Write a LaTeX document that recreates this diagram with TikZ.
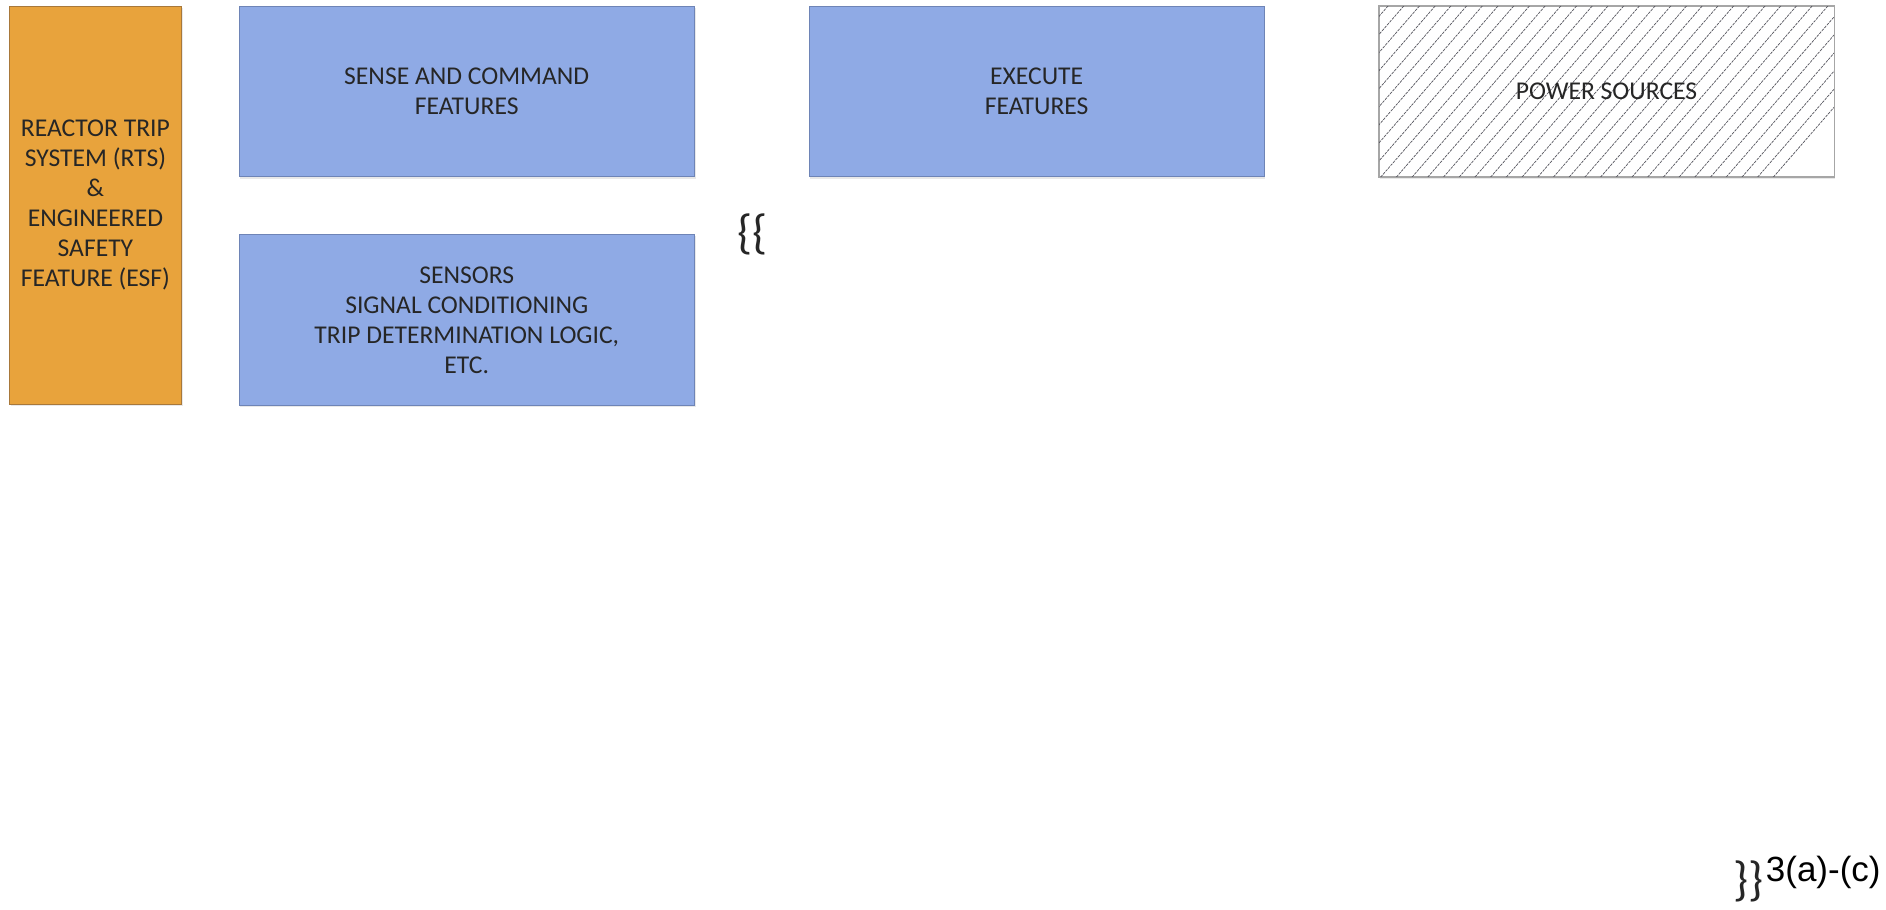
\documentclass[tikz,border=0pt]{standalone}
\usepackage{fontspec}
\setmainfont{Carlito}
\newfontfamily\arialfont{Liberation Sans}
\usepackage{tikz}
\usetikzlibrary{positioning,shadows}
\definecolor{tripcol}{HTML}{E8A33C}
\definecolor{tripedge}{HTML}{A8783A}
\definecolor{featcol}{HTML}{8FAAE5}
\definecolor{featedge}{HTML}{6E84B6}
\definecolor{txtcol}{HTML}{262626}
\definecolor{hatchcol}{HTML}{55555E}

\begin{document}
\begin{tikzpicture}[
    blk/.style={draw,thin,align=center,inner sep=0pt,text=txtcol,
      font=\fontsize{12.8}{15}\selectfont,
      drop shadow={opacity=0.18,shadow xshift=0.6pt,shadow yshift=-0.9pt}},
    featbox/.style={blk,fill=featcol,draw=featedge,
      minimum width=8cm,minimum height=3cm},
    brc/.style={text=txtcol,inner sep=0pt,font=\fontsize{24}{28}\selectfont}]
  \useasboundingbox (0,0) rectangle (33.14,-15.99);
  % ---------- left column : RTS & ESF ------------------------------
  \node[blk,fill=tripcol,draw=tripedge,minimum width=3.02cm,
        minimum height=7cm,anchor=north west] (rts) at (0.16,-0.1)
      {REACTOR TRIP\\SYSTEM (RTS)\\\&\\ENGINEERED\\SAFETY\\FEATURE (ESF)};
  % ---------- feature boxes ----------------------------------------
  \node[featbox,anchor=north west] (sense) at ([xshift=1cm]rts.north east)
      {SENSE AND COMMAND\\FEATURES};
  \node[featbox,below=1cm of sense] (sensors)
      {SENSORS\\SIGNAL CONDITIONING\\TRIP DETERMINATION LOGIC,\\ETC.};
  \node[featbox,right=2cm of sense] (exec) {EXECUTE\\FEATURES};
  % ---------- power sources (hatched) ------------------------------
  \node[blk,fill=white,draw=gray!70,minimum width=8cm,minimum height=3cm,
        right=2cm of exec] (power) {};
  \begin{scope}
    \clip (power.south west) rectangle (power.north east);
    \foreach \i in {0,...,36}
      \draw[hatchcol,line width=0.35pt,dash pattern=on 1.4pt off 0.5pt]
        ([xshift={-3cm+\i*0.276cm}]power.south west) -- ++(49:4.6cm);
  \end{scope}
  \draw[gray!70,thin] (power.south west) rectangle (power.north east);
  \node[text=txtcol,font=\fontsize{12.8}{15}\selectfont] (powertxt)
      at (power.center) {POWER SOURCES};
  % ---------- braces -----------------------------------------------
  \node[brc] (openbr) at (13.22,-4.12) {\{\{};
  \node[brc,anchor=base west] (closebr) at (30.46,-15.74) {\}\}};
  \node[anchor=base west,inner sep=0pt,text=black,
        font=\arialfont\fontsize{17.5}{20}\selectfont] (ref)
      at ([xshift=0.5pt,yshift=7pt]closebr.base east) {3(a)-(c)};
\end{tikzpicture}
\end{document}
